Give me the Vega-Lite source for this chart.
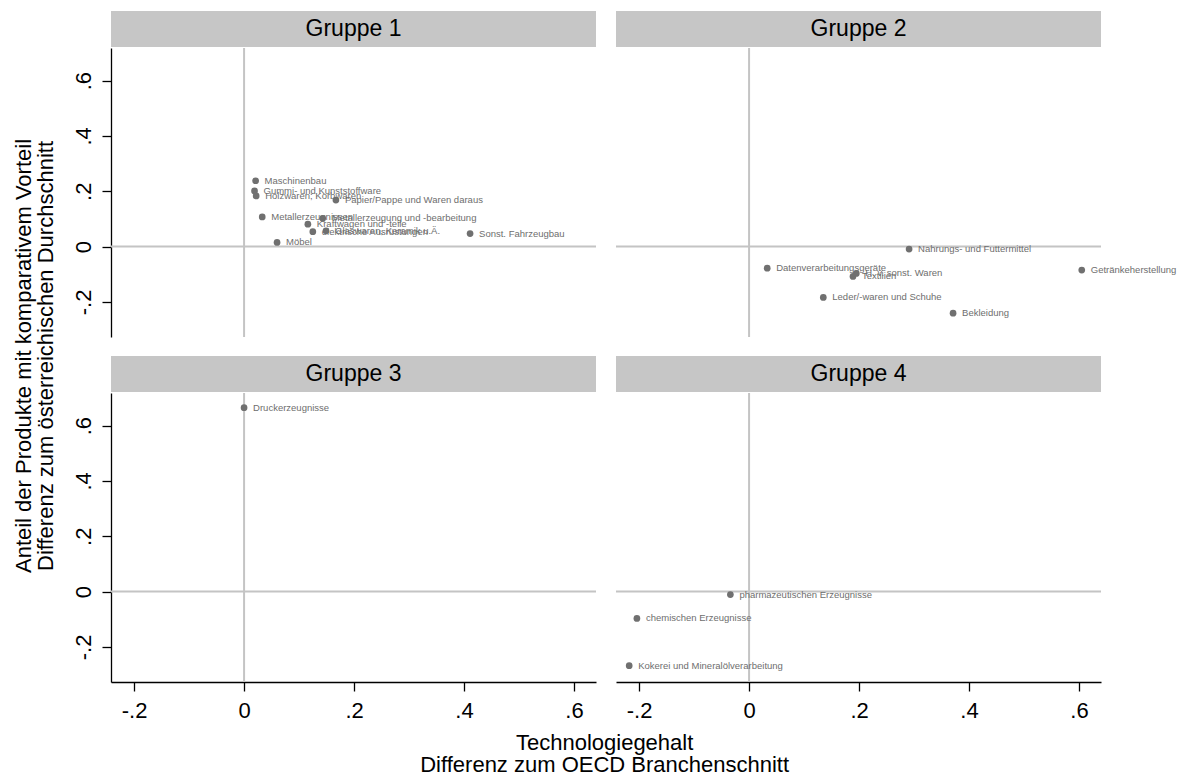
{
  "$schema": "https://vega.github.io/schema/vega-lite/v6.json",
  "background": "white",
  "padding": {"left": 12, "top": 11, "right": 5, "bottom": 5},
  "config": {
    "font": "Liberation Sans",
    "view": {"stroke": null},
    "axis": {
      "domainColor": "#000000", "domainWidth": 1.3, "tickColor": "#000000", "tickWidth": 1.3,
      "tickSize": 9, "labelFontSize": 22, "labelColor": "#000000", "grid": false,
      "labelFont": "Liberation Sans", "labelFlush": false, "labelOverlap": false
    }
  },
  "datasets": {
    "pts": [
      {"g": 1, "name": "Maschinenbau", "x": 0.021, "y": 0.238},
      {"g": 1, "name": "Gummi- und Kunststoffware", "x": 0.019, "y": 0.201},
      {"g": 1, "name": "Holzwaren; Korbwaren", "x": 0.022, "y": 0.183},
      {"g": 1, "name": "Papier/Pappe und Waren daraus", "x": 0.167, "y": 0.168},
      {"g": 1, "name": "Metallerzeugnissen", "x": 0.033, "y": 0.107},
      {"g": 1, "name": "Metallerzeugung und -bearbeitung", "x": 0.143, "y": 0.102},
      {"g": 1, "name": "Kraftwagen und -teile", "x": 0.116, "y": 0.081},
      {"g": 1, "name": "elektrische Ausrüstungen", "x": 0.125, "y": 0.054},
      {"g": 1, "name": "Glaswaren, Keramik u.Ä.", "x": 0.149, "y": 0.057},
      {"g": 1, "name": "Sonst. Fahrzeugbau", "x": 0.411, "y": 0.047},
      {"g": 1, "name": "Möbel", "x": 0.06, "y": 0.015},
      {"g": 2, "name": "Nahrungs- und Futtermittel", "x": 0.291, "y": -0.009},
      {"g": 2, "name": "Datenverarbeitungsgeräte", "x": 0.033, "y": -0.078},
      {"g": 2, "name": "Textilien", "x": 0.189, "y": -0.108},
      {"g": 2, "name": "H. v. sonst. Waren", "x": 0.195, "y": -0.097},
      {"g": 2, "name": "Getränkeherstellung", "x": 0.605, "y": -0.085},
      {"g": 2, "name": "Leder/-waren und Schuhe", "x": 0.135, "y": -0.184},
      {"g": 2, "name": "Bekleidung", "x": 0.371, "y": -0.241},
      {"g": 3, "name": "Druckerzeugnisse", "x": 0.0, "y": 0.665},
      {"g": 4, "name": "pharmazeutischen Erzeugnisse", "x": -0.034, "y": -0.011},
      {"g": 4, "name": "chemischen Erzeugnisse", "x": -0.204, "y": -0.097},
      {"g": 4, "name": "Kokerei und Mineralölverarbeitung", "x": -0.218, "y": -0.268}
    ],
    "hdr": [
      {"g": 1, "label": "Gruppe 1"},
      {"g": 2, "label": "Gruppe 2"},
      {"g": 3, "label": "Gruppe 3"},
      {"g": 4, "label": "Gruppe 4"}
    ],
    "refs": [{"ref": 0}]
  },
  "title": {
    "text": ["Technologiegehalt", "Differenz zum OECD Branchenschnitt"],
    "orient": "bottom", "anchor": "middle", "fontSize": 22, "fontWeight": "normal",
    "color": "#000000", "lineHeight": 22, "offset": 12, "dx": 10, "font": "Liberation Sans"
  },
  "vconcat": [
    {
      "title": {
        "text": ["Anteil der Produkte mit komparativem Vorteil", "Differenz zum österreichischen Durchschnitt"],
        "orient": "left", "anchor": "middle", "fontSize": 22, "fontWeight": "normal",
        "color": "#000000", "lineHeight": 22, "offset": 14, "dx": 10, "font": "Liberation Sans"
      },
      "columns": 2,
      "spacing": {"row": 18, "column": 18},
      "concat": [
        {
          "spacing": 0,
          "vconcat": [
            {"width": 485, "height": 36, "data": {"name": "hdr"}, "transform": [{"filter": "datum.g == 1"}],
             "view": {"fill": "#c6c6c6", "stroke": null},
             "mark": {"type": "text", "fontSize": 23, "color": "#000000", "baseline": "middle"},
             "encoding": {"text": {"field": "label"}}},
            {"width": 485, "height": 289,
             "layer": [
               {"data": {"name": "refs"}, "mark": {"type": "rule", "color": "#c4c4c4", "strokeWidth": 2},
                "encoding": {"y": {"field": "ref", "type": "quantitative", "scale": {"domain": [-0.327, 0.718], "nice": false, "zero": false},
                  "axis": {"orient": "left", "title": null, "values": [-0.2, 0, 0.2, 0.4, 0.6], "labelAngle": -90, "labelAlign": "center", "labelBaseline": "alphabetic", "labelPadding": 12,
                           "labelExpr": "datum.value == 0 ? '0' : replace(replace(format(datum.value, '.1f'), '0.', '.'), '−', '-')"}}}},
               {"data": {"name": "refs"}, "mark": {"type": "rule", "color": "#c4c4c4", "strokeWidth": 2},
                "encoding": {"x": {"field": "ref", "type": "quantitative", "scale": {"domain": [-0.242, 0.64], "nice": false, "zero": false}, "axis": null}}},
               {"data": {"name": "pts"}, "transform": [{"filter": "datum.g == 1"}],
                "mark": {"type": "circle", "size": 45, "color": "#707070", "opacity": 1},
                "encoding": {
                  "x": {"field": "x", "type": "quantitative", "axis": null},
                  "y": {"field": "y", "type": "quantitative"}
                }},
               {"data": {"name": "pts"}, "transform": [{"filter": "datum.g == 1"}],
                "mark": {"type": "text", "align": "left", "baseline": "middle", "dx": 9, "fontSize": 9.5, "color": "#6e6e6e"},
                "encoding": {
                  "x": {"field": "x", "type": "quantitative", "axis": null},
                  "y": {"field": "y", "type": "quantitative"},
                  "text": {"field": "name"}
                }}
             ]}
          ]
        },
        {
          "spacing": 0,
          "vconcat": [
            {"width": 485, "height": 36, "data": {"name": "hdr"}, "transform": [{"filter": "datum.g == 2"}],
             "view": {"fill": "#c6c6c6", "stroke": null},
             "mark": {"type": "text", "fontSize": 23, "color": "#000000", "baseline": "middle"},
             "encoding": {"text": {"field": "label"}}},
            {"width": 485, "height": 289,
             "layer": [
               {"data": {"name": "refs"}, "mark": {"type": "rule", "color": "#c4c4c4", "strokeWidth": 2},
                "encoding": {"y": {"field": "ref", "type": "quantitative", "scale": {"domain": [-0.327, 0.718], "nice": false, "zero": false}, "axis": null}}},
               {"data": {"name": "refs"}, "mark": {"type": "rule", "color": "#c4c4c4", "strokeWidth": 2},
                "encoding": {"x": {"field": "ref", "type": "quantitative", "scale": {"domain": [-0.242, 0.64], "nice": false, "zero": false}, "axis": null}}},
               {"data": {"name": "pts"}, "transform": [{"filter": "datum.g == 2"}],
                "mark": {"type": "circle", "size": 45, "color": "#707070", "opacity": 1},
                "encoding": {
                  "x": {"field": "x", "type": "quantitative", "axis": null},
                  "y": {"field": "y", "type": "quantitative", "axis": null}
                }},
               {"data": {"name": "pts"}, "transform": [{"filter": "datum.g == 2"}],
                "mark": {"type": "text", "align": "left", "baseline": "middle", "dx": 9, "fontSize": 9.5, "color": "#6e6e6e"},
                "encoding": {
                  "x": {"field": "x", "type": "quantitative", "axis": null},
                  "y": {"field": "y", "type": "quantitative", "axis": null},
                  "text": {"field": "name"}
                }}
             ]}
          ]
        },
        {
          "spacing": 0,
          "vconcat": [
            {"width": 485, "height": 36, "data": {"name": "hdr"}, "transform": [{"filter": "datum.g == 3"}],
             "view": {"fill": "#c6c6c6", "stroke": null},
             "mark": {"type": "text", "fontSize": 23, "color": "#000000", "baseline": "middle"},
             "encoding": {"text": {"field": "label"}}},
            {"width": 485, "height": 289,
             "layer": [
               {"data": {"name": "refs"}, "mark": {"type": "rule", "color": "#c4c4c4", "strokeWidth": 2},
                "encoding": {"y": {"field": "ref", "type": "quantitative", "scale": {"domain": [-0.327, 0.718], "nice": false, "zero": false},
                  "axis": {"orient": "left", "title": null, "values": [-0.2, 0, 0.2, 0.4, 0.6], "labelAngle": -90, "labelAlign": "center", "labelBaseline": "alphabetic", "labelPadding": 12,
                           "labelExpr": "datum.value == 0 ? '0' : replace(replace(format(datum.value, '.1f'), '0.', '.'), '−', '-')"}}}},
               {"data": {"name": "refs"}, "mark": {"type": "rule", "color": "#c4c4c4", "strokeWidth": 2},
                "encoding": {"x": {"field": "ref", "type": "quantitative", "scale": {"domain": [-0.242, 0.64], "nice": false, "zero": false},
                  "axis": {"orient": "bottom", "title": null, "values": [-0.2, 0, 0.2, 0.4, 0.6], "labelPadding": 9,
                           "labelExpr": "datum.value == 0 ? '0' : replace(replace(format(datum.value, '.1f'), '0.', '.'), '−', '-')"}}}},
               {"data": {"name": "pts"}, "transform": [{"filter": "datum.g == 3"}],
                "mark": {"type": "circle", "size": 45, "color": "#707070", "opacity": 1},
                "encoding": {
                  "x": {"field": "x", "type": "quantitative"},
                  "y": {"field": "y", "type": "quantitative"}
                }},
               {"data": {"name": "pts"}, "transform": [{"filter": "datum.g == 3"}],
                "mark": {"type": "text", "align": "left", "baseline": "middle", "dx": 9, "fontSize": 9.5, "color": "#6e6e6e"},
                "encoding": {
                  "x": {"field": "x", "type": "quantitative"},
                  "y": {"field": "y", "type": "quantitative"},
                  "text": {"field": "name"}
                }}
             ]}
          ]
        },
        {
          "spacing": 0,
          "vconcat": [
            {"width": 485, "height": 36, "data": {"name": "hdr"}, "transform": [{"filter": "datum.g == 4"}],
             "view": {"fill": "#c6c6c6", "stroke": null},
             "mark": {"type": "text", "fontSize": 23, "color": "#000000", "baseline": "middle"},
             "encoding": {"text": {"field": "label"}}},
            {"width": 485, "height": 289,
             "layer": [
               {"data": {"name": "refs"}, "mark": {"type": "rule", "color": "#c4c4c4", "strokeWidth": 2},
                "encoding": {"y": {"field": "ref", "type": "quantitative", "scale": {"domain": [-0.327, 0.718], "nice": false, "zero": false}, "axis": null}}},
               {"data": {"name": "refs"}, "mark": {"type": "rule", "color": "#c4c4c4", "strokeWidth": 2},
                "encoding": {"x": {"field": "ref", "type": "quantitative", "scale": {"domain": [-0.242, 0.64], "nice": false, "zero": false},
                  "axis": {"orient": "bottom", "title": null, "values": [-0.2, 0, 0.2, 0.4, 0.6], "labelPadding": 9,
                           "labelExpr": "datum.value == 0 ? '0' : replace(replace(format(datum.value, '.1f'), '0.', '.'), '−', '-')"}}}},
               {"data": {"name": "pts"}, "transform": [{"filter": "datum.g == 4"}],
                "mark": {"type": "circle", "size": 45, "color": "#707070", "opacity": 1},
                "encoding": {
                  "x": {"field": "x", "type": "quantitative"},
                  "y": {"field": "y", "type": "quantitative", "axis": null}
                }},
               {"data": {"name": "pts"}, "transform": [{"filter": "datum.g == 4"}],
                "mark": {"type": "text", "align": "left", "baseline": "middle", "dx": 9, "fontSize": 9.5, "color": "#6e6e6e"},
                "encoding": {
                  "x": {"field": "x", "type": "quantitative"},
                  "y": {"field": "y", "type": "quantitative", "axis": null},
                  "text": {"field": "name"}
                }}
             ]}
          ]
        }
      ]
    }
  ]
}
